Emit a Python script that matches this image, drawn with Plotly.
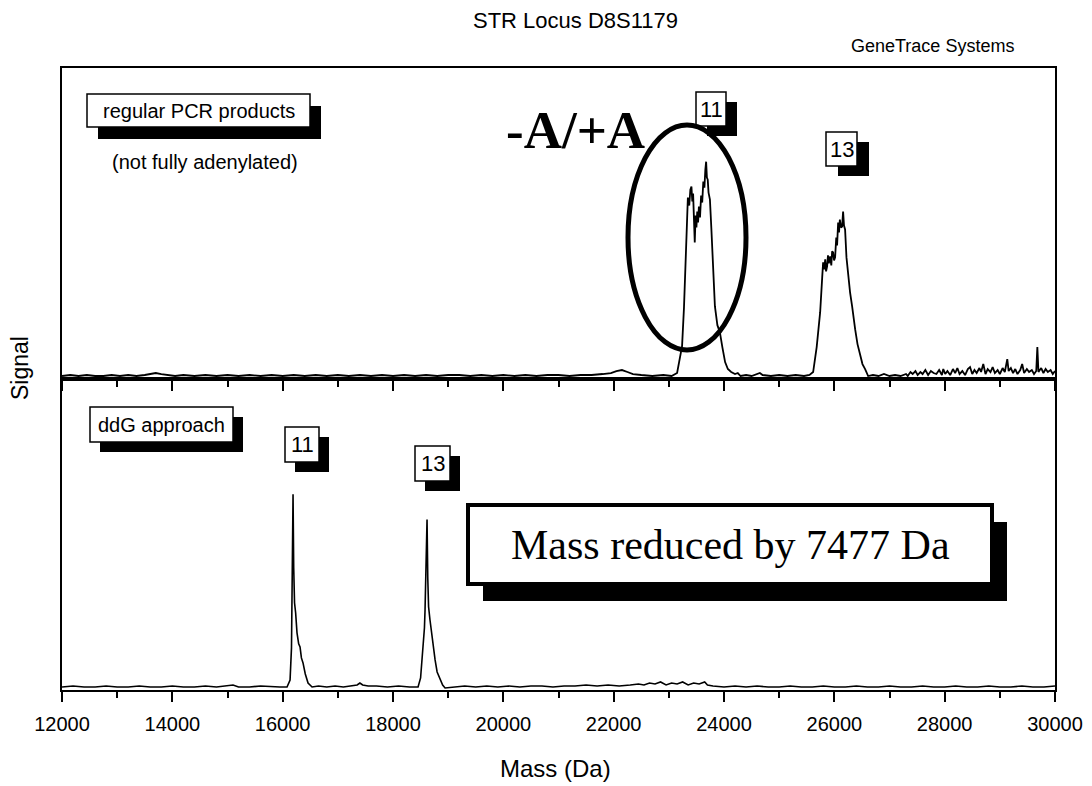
import plotly.graph_objects as go
from plotly.subplots import make_subplots

# --- data (mass in Da, signal in arbitrary units) ---
top_mass = [12000, 12150, 12300, 12450, 12600, 12750, 12900, 13050, 13200, 13350, 13500, 13600, 13700, 13800,
            13900, 14050, 14200, 14400, 14600, 14800, 15000, 15200, 15400, 15600, 15800, 16000, 16200, 16400,
            16600, 16800, 17000, 17200, 17400, 17600, 17800, 18000, 18200, 18400, 18600, 18800, 19000, 19200,
            19400, 19600, 19800, 20000, 20200, 20400, 20600, 20800, 21000, 21200, 21400, 21600, 21800, 21950,
            22050, 22150, 22250, 22350, 22500, 22700, 22900, 23050, 23150,
            23200, 23240, 23275, 23300, 23320, 23345, 23370, 23390, 23410, 23425, 23440, 23455, 23470, 23485,
            23500, 23515, 23530, 23545, 23565, 23585, 23605, 23625, 23645, 23662, 23676, 23690, 23705, 23720,
            23745, 23770, 23800, 23835, 23880, 23925, 23970, 24020, 24070, 24130, 24200, 24250, 24300,
            24400, 24500, 24600, 24650, 24700, 24850, 25000, 25150, 25300, 25450, 25550,
            25616, 25680, 25743, 25780, 25797, 25815, 25835, 25850, 25869, 25885, 25900, 25924, 25945, 25960,
            25978, 25995, 26014, 26035, 26050, 26069, 26085, 26100, 26120, 26141, 26159, 26175, 26195, 26220,
            26250, 26285, 26322, 26350, 26377, 26420, 26467, 26510, 26558, 26613,
            26700, 26800, 26900, 27000, 27100, 27200, 27300, 27330, 27380, 27420, 27470, 27510, 27560, 27600,
            27650, 27700, 27750, 27800, 27850, 27900, 27950, 27975, 28010, 28050, 28100, 28150, 28190, 28230,
            28270, 28320, 28370, 28420, 28460, 28500, 28540, 28580, 28630, 28660, 28700, 28740, 28780, 28830,
            28870, 28910, 28960, 29000, 29050, 29090, 29135, 29160, 29200, 29240, 29280, 29320, 29370, 29405,
            29440, 29490, 29530, 29580, 29620, 29660, 29680, 29700, 29750, 29790, 29830, 29870, 29920, 29960,
            30000]
top_signal = [1, 2, 1, 2, 1, 1, 2, 1, 2, 1, 2, 3, 4, 3,
              2, 1, 2, 1, 2, 1, 2, 1, 2, 1, 2, 1, 2, 1,
              2, 1, 2, 1, 2, 1, 2, 1, 2, 1, 2, 1, 2, 2,
              1, 2, 1, 2, 1, 2, 1, 2, 2, 1, 2, 2, 3, 4,
              6, 7, 5, 3, 2, 1, 2, 1, 4,
              20, 31, 70, 111, 158, 180, 172, 188, 191, 176, 184, 160, 135, 162,
              150, 166, 155, 171, 160, 182, 175, 196, 190, 208, 216, 200, 198, 185,
              178, 150, 111, 71, 52, 45, 30, 15, 8, 5, 3, 4, 1,
              2, 1, 3, 4, 2, 1, 2, 1, 2, 1, 2,
              5, 30, 65, 100, 115, 108, 118, 106, 111, 122, 114, 121, 112, 126,
              125, 117, 120, 140, 132, 155, 145, 158, 150, 151, 166, 152, 148, 120,
              101, 85, 71, 58, 48, 33, 21, 13, 8, 1,
              2, 1, 3, 1, 2, 1, 3, 1, 5, 3, 6, 2, 5, 3,
              7, 2, 6, 4, 3, 7, 2, 8, 3, 6, 2, 8, 4, 9,
              3, 6, 2, 8, 10, 3, 7, 4, 9, 5, 13, 3, 8, 5,
              10, 4, 7, 3, 9, 5, 18, 6, 9, 4, 8, 3, 7, 13,
              4, 8, 5, 7, 3, 6, 30, 5, 9, 4, 8, 5, 7, 3,
              6]

bottom_mass = [12000, 12200, 12400, 12600, 12800, 13000, 13200, 13400, 13600, 13800, 14000, 14200, 14400,
               14600, 14800, 15000, 15100, 15200, 15400, 15600, 15800, 15950,
               16079, 16134, 16160, 16170, 16180, 16188, 16200, 16215, 16235, 16260, 16290, 16315, 16340,
               16369, 16410, 16460, 16533,
               16650, 16800, 16950, 17100, 17250, 17350, 17400, 17450, 17550, 17700, 17900, 18100, 18300,
               18454, 18500, 18545, 18570, 18581, 18600, 18617, 18630, 18645, 18670, 18708, 18735, 18763,
               18800, 18853, 18900, 18944,
               19100, 19300, 19500, 19700, 19900, 20100, 20300, 20500, 20700, 20900, 21100, 21300, 21500,
               21700, 21900, 22100, 22300, 22450, 22550, 22650, 22750, 22850, 22950, 23050, 23150, 23250,
               23350, 23450, 23550, 23650, 23700, 23800, 24000, 24200, 24400, 24600, 24800, 25000, 25200,
               25400, 25600, 25800, 26000, 26200, 26400, 26600, 26800, 27000, 27200, 27400, 27600, 27800,
               28000, 28200, 28400, 28600, 28800, 29000, 29200, 29400, 29600, 29800, 30000]
bottom_signal = [1, 2, 1, 1, 2, 1, 1, 2, 1, 1, 2, 1, 1,
                 2, 1, 2, 3, 1, 1, 2, 1, 1,
                 1, 8, 40, 81, 150, 193, 120, 85, 75, 55, 44, 41, 30,
                 25, 14, 5, 1,
                 2, 1, 2, 1, 2, 3, 5, 3, 2, 2, 1, 2, 1,
                 1, 10, 38, 60, 78, 130, 168, 110, 81, 68, 51, 38, 28,
                 16, 8, 3, 0,
                 1, 2, 1, 2, 1, 2, 1, 2, 2, 1, 2, 2, 3,
                 2, 3, 2, 3, 4, 3, 5, 4, 6, 3, 5, 4, 6,
                 3, 5, 4, 6, 3, 2, 1, 2, 1, 2, 1, 1, 2,
                 1, 1, 2, 1, 1, 2, 1, 1, 2, 1, 1, 2, 1,
                 1, 2, 1, 1, 2, 1, 1, 2, 1, 1, 2]

x_ticks = [12000, 14000, 16000, 18000, 20000, 22000, 24000, 26000, 28000, 30000]

# --- page geometry (screen pixels) used to place the decorations ---
L, R, T, B = 62, 1055, 68, 690
PAGE_OFFSET = 8  # default body margin of the html page
SANS = "Arial, Liberation Sans, sans-serif"
SERIF = "Times New Roman, Liberation Serif, serif"


def px(x):
    return (x - L) / (R - L)


def py(y):
    return (B - y) / (B - T)


shapes = []
annotations = []


def boxed_label(text, x0, y0, x1, y1, dx=10, dy=10, size=17, border=1.5, font=SANS):
    # black drop shadow, then white box, then the text
    shapes.append(dict(type="rect", xref="paper", yref="paper",
                       x0=px(x0 + dx), x1=px(x1 + dx), y0=py(y1 + dy), y1=py(y0 + dy),
                       fillcolor="black", line=dict(width=0)))
    shapes.append(dict(type="rect", xref="paper", yref="paper",
                       x0=px(x0), x1=px(x1), y0=py(y1), y1=py(y0),
                       fillcolor="white", line=dict(color="black", width=border)))
    annotations.append(dict(text=text, xref="paper", yref="paper",
                            x=px((x0 + x1) / 2), y=py((y0 + y1) / 2),
                            showarrow=False, font=dict(family=font, size=size, color="black"),
                            xanchor="center", yanchor="middle"))


def text_label(text, x, y, size, font=SANS, angle=0):
    annotations.append(dict(text=text, xref="paper", yref="paper", x=px(x), y=py(y),
                            showarrow=False, textangle=angle,
                            font=dict(family=font, size=size, color="black"),
                            xanchor="center", yanchor="middle"))


fig = make_subplots(rows=2, cols=1, shared_xaxes=True, vertical_spacing=0)

fig.add_trace(go.Scatter(x=top_mass, y=top_signal, mode="lines",
                         line=dict(color="black", width=1.8), showlegend=False), row=1, col=1)
fig.add_trace(go.Scatter(x=bottom_mass, y=bottom_signal, mode="lines",
                         line=dict(color="black", width=1.6), showlegend=False), row=2, col=1)

xaxis_style = dict(range=[12000, 30000], tickvals=x_ticks, tickformat="d", ticks="outside",
                   ticklen=10, tickwidth=2, tickcolor="black",
                   minor=dict(dtick=1000, tick0=12000, ticks="outside", ticklen=6,
                              tickwidth=1.5, tickcolor="black"),
                   showline=True, linewidth=2, linecolor="black", mirror=True,
                   showgrid=False, zeroline=False)
fig.update_xaxes(**xaxis_style)
fig.update_xaxes(showticklabels=False, row=1, col=1)
fig.update_xaxes(showticklabels=True, ticklabelstandoff=5,
                 tickfont=dict(family=SANS, size=20, color="black"), row=2, col=1)

yaxis_style = dict(showline=True, linewidth=2, linecolor="black", mirror=True,
                   showgrid=False, zeroline=False, showticklabels=False)
fig.update_yaxes(range=[-2, 310], ticks="", **yaxis_style, row=1, col=1)
fig.update_yaxes(range=[-2, 308], tickvals=[308], ticks="inside", ticklen=8, tickwidth=2,
                 tickcolor="black", **yaxis_style, row=2, col=1)

# titles
text_label("STR Locus D8S1179", 575, 20, 22)
text_label("GeneTrace Systems", 932, 46, 18)
text_label("Signal", 20, 368, 23, angle=-90)
text_label("Mass (Da)", 555, 768, 24)

# upper panel decorations
boxed_label("regular PCR products", 87, 94, 310, 127, dx=11, dy=12, size=20)
text_label("(not fully adenylated)", 205, 162, 20)
annotations.append(dict(text="<b>-A/+A</b>", xref="paper", yref="paper", x=px(575), y=py(130),
                        showarrow=False, font=dict(family=SERIF, size=53, color="black"),
                        xanchor="center", yanchor="middle"))
boxed_label("11", 696, 92, 726, 126, dx=11, dy=10, size=22)
boxed_label("13", 826, 132, 857, 166, dx=12, dy=10, size=22)
shapes.append(dict(type="circle", xref="paper", yref="paper",
                   x0=px(628), x1=px(746), y0=py(350), y1=py(125),
                   line=dict(color="black", width=5)))

# lower panel decorations
boxed_label("ddG approach", 90, 407, 233, 442, dx=10, dy=10, size=20)
boxed_label("11", 285, 427, 319, 462, dx=10, dy=10, size=22)
boxed_label("13", 415, 446, 450, 481, dx=10, dy=10, size=22)
boxed_label("Mass reduced by 7477 Da", 468, 505, 992, 584, dx=15, dy=17, size=42,
            border=4, font=SERIF)

fig.update_layout(
    width=1092, height=786,
    margin=dict(l=L - PAGE_OFFSET, r=1092 - R + PAGE_OFFSET,
                t=T - PAGE_OFFSET, b=786 - B + PAGE_OFFSET),
    paper_bgcolor="white", plot_bgcolor="white",
    shapes=shapes, annotations=annotations,
    font=dict(family=SANS, color="black"),
)

fig.write_html("out.html")
